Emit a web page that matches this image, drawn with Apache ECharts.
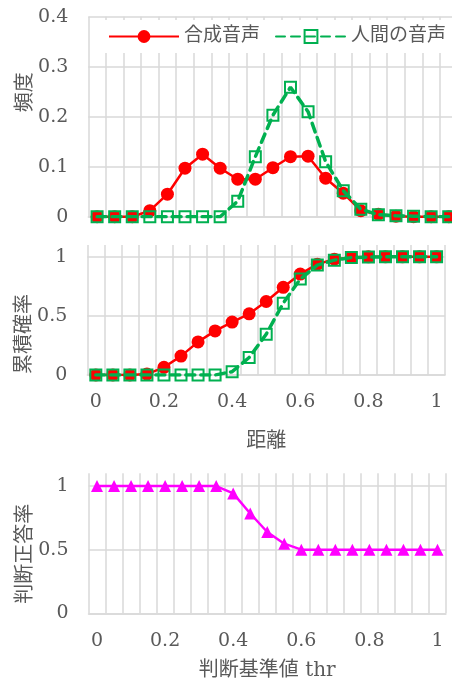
<!DOCTYPE html>
<html>
<head>
<meta charset="utf-8">
<script src="https://cdn.jsdelivr.net/npm/echarts@6/dist/echarts.min.js"></script>
<style>
html,body{margin:0;padding:0;background:#fff;}
#c{width:452px;height:679px;}
</style>
</head>
<body>
<div id="c"></div>
<script>
// categories (distance / threshold)
const distances = ['0','0.05','0.1','0.15','0.2','0.25','0.3','0.35','0.4','0.45','0.5','0.55','0.6','0.65','0.7','0.75','0.8','0.85','0.9','0.95','1'];
// frequency
const synthFreq = [0,0,0,0.012,0.045,0.097,0.125,0.097,0.075,0.075,0.098,0.12,0.121,0.077,0.047,0.012,0.005,0.001,0,0,0];
const humanFreq = [0,0,0,0,0,0,0,0,0.031,0.12,0.203,0.259,0.21,0.11,0.052,0.015,0.004,0.002,0.001,0,0];
// cumulative probability
const synthCum = [0,0,0,0.008,0.065,0.16,0.28,0.373,0.448,0.518,0.622,0.742,0.854,0.938,0.98,0.995,1,1,1,1,1];
const humanCum = [0,0,0,0,0,0,0,0,0.028,0.148,0.345,0.608,0.812,0.93,0.972,0.994,0.998,1,1,1,1];
// correct answer rate
const accuracy = [1,1,1,1,1,1,1,1,0.942,0.784,0.639,0.547,0.5,0.5,0.5,0.5,0.5,0.5,0.5,0.5,0.5];

const seriesNames = ['合成音声','人間の音声'];

const FONT = '"DejaVu Serif", "Noto Sans CJK JP", serif';
const TXT = '#595959';
const GRID = '#d9d9d9';
const RED = '#ff0000';
const GREEN = '#00b050';
const MAGENTA = '#ff00ff';

function xAxis(idx, showLabel, name, nameGap){
  return {
    type:'category', gridIndex:idx, data:distances, boundaryGap:true,
    axisTick:{show:false},
    axisLine:{show:true, lineStyle:{color:GRID, width:1.5}},
    splitLine:{show:true, interval:0, lineStyle:{color:GRID, width:1.5}},
    axisLabel:{show:showLabel, interval:3, fontSize:19, color:TXT, fontFamily:FONT, margin:18},
    name:name, nameLocation:'middle', nameGap:nameGap, nameMoveOverlap:false,
    nameTextStyle:{fontSize:20, color:TXT, fontFamily:FONT}
  };
}
function yAxis(idx, max, interval, name, padding, showMax){
  return {
    type:'value', gridIndex:idx, min:0, max:max, interval:interval,
    axisLine:{show:false}, axisTick:{show:false},
    splitLine:{show:true, showMaxLine:showMax, lineStyle:{color:GRID, width:1.5}},
    axisLabel:{fontSize:19, color:TXT, fontFamily:FONT, margin:20, showMaxLabel:showMax},
    name:name, nameLocation:'middle', nameRotate:90, nameGap:53, nameMoveOverlap:false,
    nameTextStyle:{fontSize:20, color:TXT, fontFamily:FONT, padding:padding}
  };
}

function synthSeries(data, xi){
  return {name:seriesNames[0], type:'line', xAxisIndex:xi, yAxisIndex:xi, data:data,
    symbol:'circle', symbolSize:13, showSymbol:true, showAllSymbol:true,
    itemStyle:{color:RED}, lineStyle:{color:RED, width:2.5}, z:2};
}
function humanSeries(data, xi){
  return {name:seriesNames[1], type:'line', xAxisIndex:xi, yAxisIndex:xi, data:data,
    symbol:'rect', symbolSize:11, showSymbol:true, showAllSymbol:true,
    itemStyle:{color:'rgba(255,255,255,0)', borderColor:GREEN, borderWidth:2},
    lineStyle:{color:GREEN, width:3.5, type:[9,6], cap:'round'}, z:3};
}

const chart = echarts.init(document.getElementById('c'), null, {renderer:'canvas'});
chart.setOption({
  animation:false,
  backgroundColor:'#fff',
  legend:{
    data:seriesNames, left:92, top:20, width:420, orient:'horizontal',
    padding:[7,16], backgroundColor:'#fff',
    itemWidth:70, itemHeight:16, itemGap:15,
    textStyle:{fontSize:19, color:TXT, fontFamily:FONT}
  },
  grid:[
    {left:88.3, right:-5.5, top:16.7, height:200, outerBoundsMode:'none', containLabel:false},
    {left:87.3, right:6.9, top:245, height:130, outerBoundsMode:'none', containLabel:false},
    {left:88.5, right:6, top:473.3, height:140, outerBoundsMode:'none', containLabel:false}
  ],
  xAxis:[
    xAxis(0, false, '', 0),
    xAxis(1, true, '距離', 57),
    xAxis(2, true, '判断基準値 thr', 47)
  ],
  yAxis:[
    yAxis(0, 0.4, 0.1, '頻度', [0,0,0,49], true),
    yAxis(1, 1.1, 0.5, '累積確率', [0,48,0,0], false),
    yAxis(2, 1.1, 0.5, '判断正答率', [0,21,0,0], false)
  ],
  series:[
    synthSeries(synthFreq, 0),
    humanSeries(humanFreq, 0),
    synthSeries(synthCum, 1),
    humanSeries(humanCum, 1),
    {name:'判断正答率', type:'line', xAxisIndex:2, yAxisIndex:2, data:accuracy,
      symbol:'triangle', symbolSize:12, showSymbol:true, showAllSymbol:true,
      itemStyle:{color:MAGENTA}, lineStyle:{color:MAGENTA, width:2.5}}
  ]
});
</script>
</body>
</html>
